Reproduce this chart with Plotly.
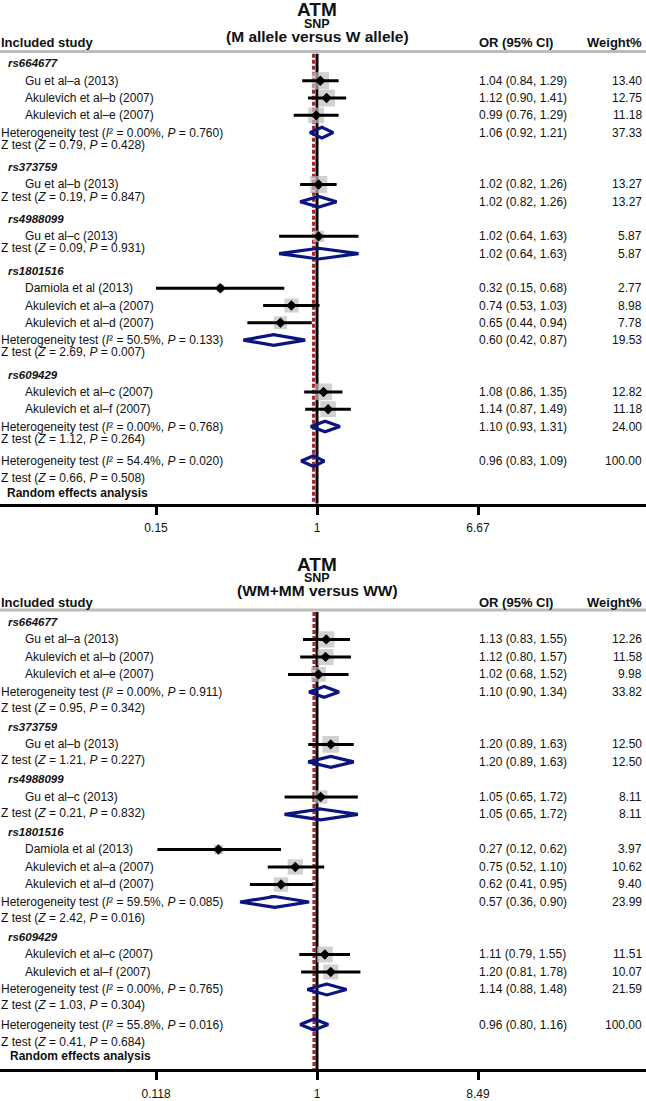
import math
import plotly.graph_objects as go

# ---------------- data ----------------
snps = ["rs664677", "rs373759", "rs4988099", "rs1801516", "rs609429"]
study_names = ["Gu et al–a (2013)", "Akulevich et al–b (2007)", "Akulevich et al–e (2007)",
               "Gu et al–b (2013)", "Gu et al–c (2013)",
               "Damiola et al (2013)", "Akulevich et al–a (2007)", "Akulevich et al–d (2007)",
               "Akulevich et al–c (2007)", "Akulevich et al–f (2007)"]
study_snp = [0, 0, 0, 1, 2, 3, 3, 3, 4, 4]

# Panel A: M allele versus W allele
a_or = [1.04, 1.12, 0.99, 1.02, 1.02, 0.32, 0.74, 0.65, 1.08, 1.14]
a_lo = [0.84, 0.90, 0.76, 0.82, 0.64, 0.15, 0.53, 0.44, 0.86, 0.87]
a_hi = [1.29, 1.41, 1.29, 1.26, 1.63, 0.68, 1.03, 0.94, 1.35, 1.49]
a_w = [13.40, 12.75, 11.18, 13.27, 5.87, 2.77, 8.98, 7.78, 12.82, 11.18]
a_sub_or = [1.06, 1.02, 1.02, 0.60, 1.10]
a_sub_lo = [0.92, 0.82, 0.64, 0.42, 0.93]
a_sub_hi = [1.21, 1.26, 1.63, 0.87, 1.31]
a_sub_w = [37.33, 13.27, 5.87, 19.53, 24.00]
a_sub_i2 = ["0.00%", None, None, "50.5%", "0.00%"]
a_sub_phet = ["0.760", None, None, "0.133", "0.768"]
a_sub_z = ["0.79", "0.19", "0.09", "2.69", "1.12"]
a_sub_pz = ["0.428", "0.847", "0.931", "0.007", "0.264"]
a_all = [0.96, 0.83, 1.09, 100.00]
a_all_het = ["54.4%", "0.020"]
a_all_z = ["0.66", "0.508"]
a_ticks = [0.15, 1, 6.67]
a_ticklabels = ["0.15", "1", "6.67"]

# Panel B: WM+MM versus WW
b_or = [1.13, 1.12, 1.02, 1.20, 1.05, 0.27, 0.75, 0.62, 1.11, 1.20]
b_lo = [0.83, 0.80, 0.68, 0.89, 0.65, 0.12, 0.52, 0.41, 0.79, 0.81]
b_hi = [1.55, 1.57, 1.52, 1.63, 1.72, 0.62, 1.10, 0.95, 1.55, 1.78]
b_w = [12.26, 11.58, 9.98, 12.50, 8.11, 3.97, 10.62, 9.40, 11.51, 10.07]
b_sub_or = [1.10, 1.20, 1.05, 0.57, 1.14]
b_sub_lo = [0.90, 0.89, 0.65, 0.36, 0.88]
b_sub_hi = [1.34, 1.63, 1.72, 0.90, 1.48]
b_sub_w = [33.82, 12.50, 8.11, 23.99, 21.59]
b_sub_i2 = ["0.00%", None, None, "59.5%", "0.00%"]
b_sub_phet = ["0.911", None, None, "0.085", "0.765"]
b_sub_z = ["0.95", "1.21", "0.21", "2.42", "1.03"]
b_sub_pz = ["0.342", "0.227", "0.832", "0.016", "0.304"]
b_all = [0.96, 0.80, 1.16, 100.00]
b_all_het = ["55.8%", "0.016"]
b_all_z = ["0.41", "0.684"]
b_ticks = [0.118, 1, 8.49]
b_ticklabels = ["0.118", "1", "8.49"]

titles = [("ATM", "SNP", "(M allele versus W allele)"),
          ("ATM", "SNP", "(WM+MM versus WW)")]

# ---------------- layout constants (pixels) ----------------
W, H = 646, 1101
FONT = "Liberation Sans, Arial, Helvetica, sans-serif"
NAVY = "#0b1580"
DARKRED = "#a3262e"
GREY = "#bdbdbd"
TXT = "#111111"

panels = [
    dict(orv=a_or, lo=a_lo, hi=a_hi, w=a_w, sor=a_sub_or, slo=a_sub_lo, shi=a_sub_hi, sw=a_sub_w,
         si2=a_sub_i2, sph=a_sub_phet, sz=a_sub_z, spz=a_sub_pz, allv=a_all, allh=a_all_het,
         allz=a_all_z, ticks=a_ticks, tlabels=a_ticklabels, title=titles[0],
         top_px=0, row0_px=64, pitch=17.43, axis_px=508, zoff=-0.3,
         t_px=[10, 24, 37], inc_px=43, hdr_px=52, rand_px=497, rand_x=6),
    dict(orv=b_or, lo=b_lo, hi=b_hi, w=b_w, sor=b_sub_or, slo=b_sub_lo, shi=b_sub_hi, sw=b_sub_w,
         si2=b_sub_i2, sph=b_sub_phet, sz=b_sub_z, spz=b_sub_pz, allv=b_all, allh=b_all_het,
         allz=b_all_z, ticks=b_ticks, tlabels=b_ticklabels, title=titles[1],
         top_px=548, row0_px=627, pitch=17.65, axis_px=1078, zoff=-0.1,
         t_px=[569, 583, 595], inc_px=607, hdr_px=615, rand_px=1065, rand_x=9),
]

X_ONE = 317        # pixel of OR = 1
TICK_PX = 161      # pixel distance of outer ticks from OR = 1
X_STUDY = 24
X_HEAD = 7
X_STAT = 0
X_OR = 478
X_W = 643

fig = go.Figure()
annotations = []
shapes = []


def ann(text, xpx, y, yref, anchor="left", size=12, bold=False, color=TXT):
    if bold:
        text = "<b>" + text + "</b>"
    annotations.append(dict(text=text, x=xpx / W, xref="paper", y=y, yref=yref,
                            xanchor=anchor, yanchor="middle", showarrow=False, borderpad=0,
                            font=dict(family=FONT, size=size, color=color)))


for k, P in enumerate(panels):
    xa = "x" if k == 0 else "x2"
    ya = "y" if k == 0 else "y2"
    xaxis_name = "xaxis" if k == 0 else "xaxis2"
    yaxis_name = "yaxis" if k == 0 else "yaxis2"

    def row_of(px, P=P):
        return (px - P["row0_px"]) / P["pitch"]

    # --- assign rows ---
    study_rows = [None] * len(study_names)
    r = 0
    head_rows, diam_rows, het_rows, z_rows = [], [], [], []
    for s, name in enumerate(snps):
        head_rows.append(r)
        r += 1
        idx = [i for i in range(len(study_names)) if study_snp[i] == s]
        for i in idx:
            study_rows[i] = r
            r += 1
        if len(idx) > 1:
            diam_rows.append(r)
            het_rows.append(r)
            z_rows.append(r + 1 + P["zoff"])
            r += 2
        else:
            diam_rows.append(r)
            het_rows.append(None)
            z_rows.append(r + P["zoff"])
            r += 1
    all_row = r
    allz_row = r + 1

    top_row = row_of(P["top_px"])
    bot_row = row_of(P["axis_px"])
    hdr_row = row_of(P["hdr_px"])

    # --- vertical lines ---
    fig.add_trace(go.Scatter(x=[P["allv"][0], P["allv"][0]], y=[hdr_row + 0.12, bot_row],
                             xaxis=xa, yaxis=ya, mode="lines",
                             line=dict(color=DARKRED, width=3, dash="4px,2px"), hoverinfo="skip"))
    fig.add_trace(go.Scatter(x=[1, 1], y=[hdr_row + 0.12, bot_row], xaxis=xa, yaxis=ya, mode="lines",
                             line=dict(color="black", width=3), hoverinfo="skip"))

    # --- study boxes ---
    fig.add_trace(go.Scatter(x=P["orv"], y=study_rows, xaxis=xa, yaxis=ya, mode="markers",
                             marker=dict(symbol="square", color=GREY,
                                         size=[4.7 * math.sqrt(w) for w in P["w"]],
                                         line=dict(width=0)), hoverinfo="skip"))
    # --- CI lines ---
    cx, cy = [], []
    for i in range(len(study_names)):
        cx += [P["lo"][i], P["hi"][i], None]
        cy += [study_rows[i], study_rows[i], None]
    fig.add_trace(go.Scatter(x=cx, y=cy, xaxis=xa, yaxis=ya, mode="lines",
                             line=dict(color="black", width=3), hoverinfo="skip"))
    fig.add_trace(go.Scatter(x=P["orv"], y=study_rows, xaxis=xa, yaxis=ya, mode="markers",
                             marker=dict(symbol="diamond", color="black", size=8), hoverinfo="skip"))

    # --- summary diamonds ---
    h = 0.31
    dx, dy = [], []
    for s in range(len(snps)):
        rr = diam_rows[s]
        dx += [P["slo"][s], P["sor"][s], P["shi"][s], P["sor"][s], P["slo"][s], P["sor"][s], None]
        dy += [rr, rr - h, rr, rr + h, rr, rr - h, None]
    rr = all_row
    dx += [P["allv"][1], P["allv"][0], P["allv"][2], P["allv"][0], P["allv"][1], P["allv"][0], None]
    dy += [rr, rr - h, rr, rr + h, rr, rr - h, None]
    fig.add_trace(go.Scatter(x=dx, y=dy, xaxis=xa, yaxis=ya, mode="lines",
                             line=dict(color=NAVY, width=3.2), hoverinfo="skip"))

    # --- header texts ---
    t1, t2, t3 = P["title"]
    ann(t1, X_ONE, row_of(P["t_px"][0]), ya, "center", 19, True)
    ann(t2, X_ONE, row_of(P["t_px"][1]), ya, "center", 12.5, True)
    ann(t3, X_ONE, row_of(P["t_px"][2]), ya, "center", 15.5, True)
    ann("Included study", 0, row_of(P["inc_px"]), ya, "left", 13, True)
    ann("OR (95% CI)", X_OR, row_of(P["inc_px"]), ya, "left", 13, True)
    ann("Weight%", X_W, row_of(P["inc_px"]), ya, "right", 13, True)
    shapes.append(dict(type="line", xref="paper", yref=ya, x0=0, x1=1, y0=hdr_row, y1=hdr_row,
                       line=dict(color="#bcbcbc", width=3)))

    # --- row texts ---
    for s, name in enumerate(snps):
        ann("<i>" + name + "</i>", X_HEAD, head_rows[s], ya, "left", 11.5, True)
    for i, name in enumerate(study_names):
        ann(name, X_STUDY, study_rows[i], ya)
        ann(f"{P['orv'][i]:.2f} ({P['lo'][i]:.2f}, {P['hi'][i]:.2f})", X_OR, study_rows[i], ya)
        ann(f"{P['w'][i]:.2f}", X_W, study_rows[i], ya, "right")
    for s in range(len(snps)):
        if het_rows[s] is not None:
            ann(f"Heterogeneity test (<i>I</i>² = {P['si2'][s]}, <i>P</i> = {P['sph'][s]})",
                X_STAT, het_rows[s], ya)
        ann(f"Z test (<i>Z</i> = {P['sz'][s]}, <i>P</i> = {P['spz'][s]})", X_STAT, z_rows[s], ya)
        ann(f"{P['sor'][s]:.2f} ({P['slo'][s]:.2f}, {P['shi'][s]:.2f})", X_OR, diam_rows[s], ya)
        ann(f"{P['sw'][s]:.2f}", X_W, diam_rows[s], ya, "right")
    ann(f"Heterogeneity test (<i>I</i>² = {P['allh'][0]}, <i>P</i> = {P['allh'][1]})",
        X_STAT, all_row, ya)
    ann(f"Z test (<i>Z</i> = {P['allz'][0]}, <i>P</i> = {P['allz'][1]})", X_STAT, allz_row, ya)
    ann(f"{P['allv'][0]:.2f} ({P['allv'][1]:.2f}, {P['allv'][2]:.2f})", X_OR, all_row, ya)
    ann(f"{P['allv'][3]:.2f}", X_W, all_row, ya, "right")
    ann("Random effects analysis", P["rand_x"], row_of(P["rand_px"]), ya, "left", 12, True)

    # --- axes ---
    ppd = TICK_PX / math.log10(P["ticks"][2])
    xr = [-X_ONE / ppd, (W - X_ONE) / ppd]
    d0 = 1 - P["axis_px"] / H
    d1 = 1 - P["top_px"] / H
    fig.update_layout(**{
        xaxis_name: dict(type="log", range=xr, domain=[0, 1], anchor=ya, showline=True,
                         linecolor="black", linewidth=3, ticks="outside", ticklen=8, tickwidth=3,
                         tickcolor="black", tickvals=P["ticks"], ticktext=P["tlabels"],
                         tickfont=dict(family=FONT, size=12, color=TXT), showgrid=False,
                         zeroline=False, fixedrange=True, ticklabelstandoff=3),
        yaxis_name: dict(domain=[d0, d1], range=[bot_row, top_row], visible=False,
                         fixedrange=True, anchor=xa),
    })

fig.update_layout(width=W, height=H, margin=dict(l=0, r=0, t=0, b=0),
                  paper_bgcolor="white", plot_bgcolor="white", showlegend=False,
                  annotations=annotations, shapes=shapes)
fig.write_html("out.html", config={"displayModeBar": False},
               post_script="document.body.style.margin='0';document.body.style.padding='0';"
                           "document.body.style.overflow='hidden';")
